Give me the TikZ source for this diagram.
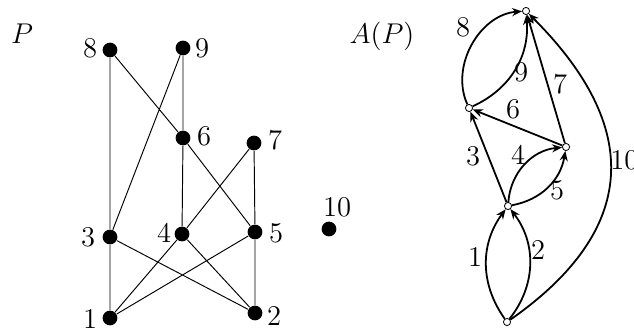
\documentclass[tikz,border=0pt]{standalone}
\usetikzlibrary{arrows.meta}
\begin{document}
\begin{tikzpicture}[x=0.42pt,y=0.42pt,font=\large,
  dot/.style={circle,fill=black,inner sep=0pt,minimum size=6.2pt},
  vtx/.style={circle,draw=black,fill=white,inner sep=0pt,minimum size=3pt,line width=0.35pt},
  lbl/.style={inner sep=0pt},
  pedge/.style={line width=0.4pt},
  aedge/.style={line width=0.75pt,-{Stealth[length=4.2pt,width=3.4pt]}}]
\useasboundingbox (0,0) rectangle (634,-329);
% Left poset
\node[lbl] (Pl) at (22,-34) {$P$};
\node[dot] (n8) at (110,-50) {};
\node[dot] (n9) at (183,-48) {};
\node[dot] (n6) at (183,-138) {};
\node[dot] (n7) at (254,-143) {};
\node[dot] (n3) at (110,-237) {};
\node[dot] (n4) at (182,-234) {};
\node[dot] (n5) at (255,-232) {};
\node[dot] (n1) at (110,-318) {};
\node[dot] (n2) at (255,-313) {};
\node[dot] (n10) at (329,-229) {};
\node[lbl] (l8) at (90,-48) {8};
\node[lbl] (l9) at (202,-48) {9};
\node[lbl] (l6) at (204,-136) {6};
\node[lbl] (l7) at (275,-140) {7};
\node[lbl] (l3) at (88,-237) {3};
\node[lbl] (l4) at (164,-233) {4};
\node[lbl] (l5) at (276,-233) {5};
\node[lbl] (l1) at (90,-319) {1};
\node[lbl] (l2) at (274,-316) {2};
\node[lbl] (l10) at (337,-207) {10};
\draw[pedge] (n8)--(n3) (n8)--(n6) (n9)--(n6) (n9)--(n3) (n6)--(n4) (n6)--(n5)
  (n7)--(n4) (n7)--(n5) (n3)--(n1) (n3)--(n2) (n4)--(n1) (n4)--(n2) (n5)--(n1) (n5)--(n2);
% Right graph
\node[lbl] (AP) at (382,-36) {$A(P)$};
\node[vtx] (T) at (526,-11) {};
\node[vtx] (L) at (469,-108) {};
\node[vtx] (R) at (566,-147) {};
\node[vtx] (M) at (508,-206) {};
\node[vtx] (B) at (507,-322) {};
\draw[aedge] (B) to[bend left=36] (M);
\draw[aedge] (B) to[bend right=38] (M);
\draw[aedge] (M) -- (L);
\draw[aedge] (M) to[bend left=40] (R);
\draw[aedge] (M) to[bend right=35] (R);
\draw[aedge] (R) -- (L);
\draw[aedge] (R) -- (T);
\draw[aedge] (L) to[bend left=55] (T);
\draw[aedge] (L) to[bend right=35] (T);
\draw[aedge] (B) .. controls (630,-236) and (650,-135) .. (T);
\node[lbl] (e1) at (475,-257) {1};
\node[lbl] (e2) at (538,-250) {2};
\node[lbl] (e3) at (473,-156) {3};
\node[lbl] (e4) at (518,-155) {4};
\node[lbl] (e5) at (557,-190) {5};
\node[lbl] (e6) at (513,-109) {6};
\node[lbl] (e7) at (560,-84) {7};
\node[lbl] (e8) at (463,-27) {8};
\node[lbl] (e9) at (521,-72) {9};
\node[lbl,anchor=west] (e10) at (610,-160) {10};
\end{tikzpicture}
\end{document}
